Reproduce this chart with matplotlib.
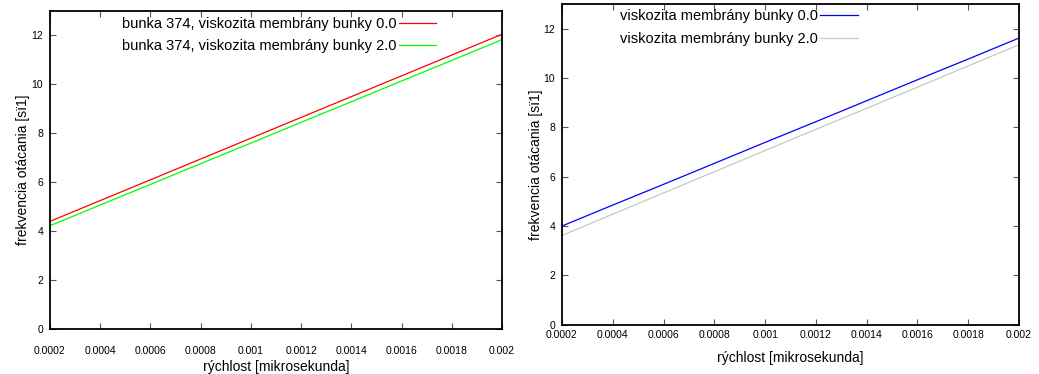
import matplotlib
matplotlib.use("Agg")
import matplotlib.pyplot as plt

plt.rcParams["font.family"] = ["Liberation Sans", "DejaVu Sans"]

# ── Data ──────────────────────────────────────────────────────────────────────
rychlost = [0.0002, 0.0004, 0.0006, 0.0008, 0.001,
            0.0012, 0.0014, 0.0016, 0.0018, 0.002]

# left panel (bunka 374)
frek_374_v0 = [4.40, 5.25, 6.10, 6.95, 7.80, 8.65, 9.50, 10.35, 11.20, 12.05]
frek_374_v2 = [4.22, 5.07, 5.91, 6.76, 7.60, 8.45, 9.29, 10.14, 10.98, 11.83]

# right panel
frek_v0 = [4.00, 4.85, 5.69, 6.54, 7.39, 8.23, 9.08, 9.93, 10.77, 11.62]
frek_v2 = [3.62, 4.48, 5.34, 6.20, 7.06, 7.92, 8.77, 9.63, 10.49, 11.35]

xticks = [0.0002, 0.0004, 0.0006, 0.0008, 0.001,
          0.0012, 0.0014, 0.0016, 0.0018, 0.002]
xtick_labels = ["0.0002", "0.0004", "0.0006", "0.0008", "0.001",
                "0.0012", "0.0014", "0.0016", "0.0018", "0.002"]
yticks = [0, 2, 4, 6, 8, 10, 12]

XLABEL = "rýchlost [mikrosekunda]"
YLABEL = "frekvencia otácania [sï1]"

fig = plt.figure(figsize=(10.39, 3.74), dpi=100, facecolor="white")


def _style(ax, xpad):
    ax.set_xlim(0.0002, 0.002)
    ax.set_ylim(0, 13)
    ax.set_xticks(xticks)
    ax.set_xticklabels(xtick_labels)
    ax.set_yticks(yticks)
    ax.tick_params(direction="in", length=4, width=0.8, labelsize=7.5,
                   top=True, right=True, color="#555")
    ax.tick_params(axis="x", pad=xpad)
    ax.tick_params(axis="y", pad=5)
    for s in ax.spines.values():
        s.set_linewidth(1.3)
        s.set_color("black")


# ── Left panel ────────────────────────────────────────────────────────────────
ax1 = fig.add_axes([0.0481, 0.1203, 0.4351, 0.8503])
ax1.plot(rychlost, frek_374_v0, color="#ff0000", lw=0.9,
         label="bunka 374, viskozita membrány bunky 0.0")
ax1.plot(rychlost, frek_374_v2, color="#00ff00", lw=0.9,
         label="bunka 374, viskozita membrány bunky 2.0")
_style(ax1, xpad=12)
ax1.set_xlabel(XLABEL, fontsize=10, labelpad=3)
ax1.set_ylabel(YLABEL, fontsize=10, labelpad=1)
ax1.legend(loc="upper right", bbox_to_anchor=(0.855, 0.982), frameon=False,
           markerfirst=False, fontsize=10.5, handlelength=2.6,
           handletextpad=0.15, labelspacing=0.58, borderpad=0.0,
           borderaxespad=0.0)

# ── Right panel ───────────────────────────────────────────────────────────────
ax2 = fig.add_axes([0.5409, 0.1318, 0.4399, 0.8575])
ax2.plot(rychlost, frek_v0, color="#0000ff", lw=0.9,
         label="viskozita membrány bunky 0.0")
ax2.plot(rychlost, frek_v2, color="#c8c8c8", lw=0.9,
         label="viskozita membrány bunky 2.0")
_style(ax2, xpad=4)
ax2.set_xlabel(XLABEL, fontsize=10, labelpad=8)
ax2.set_ylabel(YLABEL, fontsize=10, labelpad=0)
ax2.legend(loc="upper right", bbox_to_anchor=(0.648, 0.983), frameon=False,
           markerfirst=False, fontsize=10.5, handlelength=2.6,
           handletextpad=0.15, labelspacing=0.58, borderpad=0.0,
           borderaxespad=0.0)

fig.savefig("out.png", dpi=100, facecolor="white")
